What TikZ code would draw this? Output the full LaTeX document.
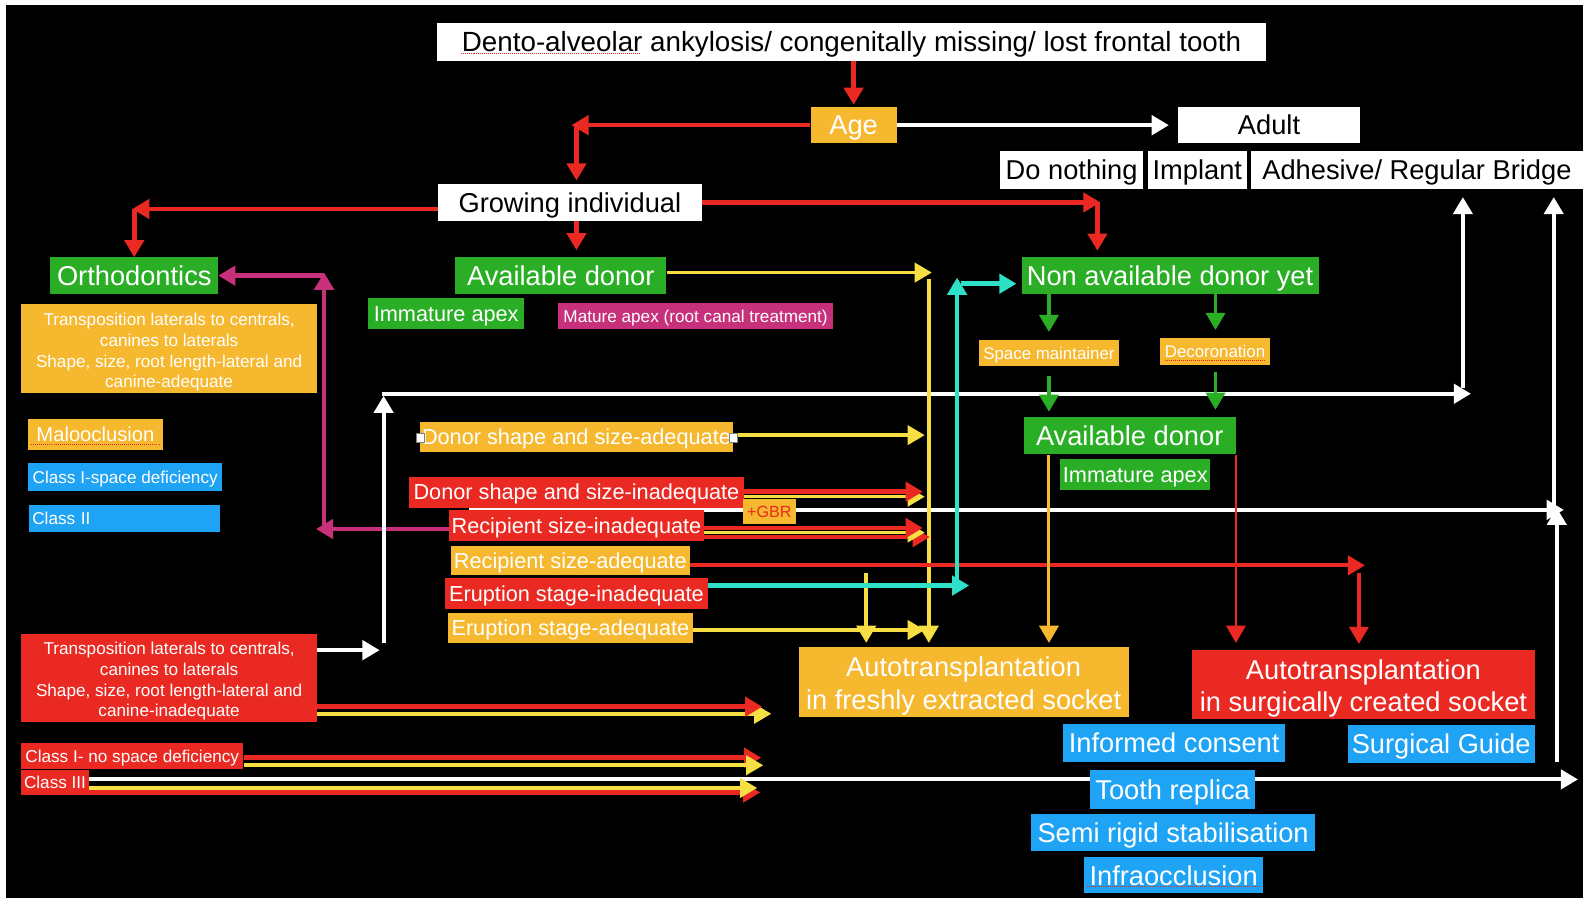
\documentclass[tikz,border=0pt]{standalone}
\usepackage{fontspec}
\setmainfont{Liberation Sans}
\usetikzlibrary{arrows.meta}
\definecolor{corange}{HTML}{F5B82E}
\definecolor{cgreen}{HTML}{2AAE25}
\definecolor{cred}{HTML}{EA2A22}
\definecolor{cblue}{HTML}{1FA4F5}
\definecolor{cmag}{HTML}{C7307B}
\definecolor{ccyan}{HTML}{2EE0C8}
\definecolor{cyel}{HTML}{F7DE42}
\pgfdeclarelayer{back}
\pgfdeclarelayer{lines}
\pgfsetlayers{back,lines,main}
\newcommand\fbig{\fontsize{27}{32}\selectfont}
\newcommand\fmid{\fontsize{21.5}{25}\selectfont}
\newcommand\fsml{\fontsize{17}{20.5}\selectfont}
\begin{document}
\begin{tikzpicture}[x=1pt,y=-1pt,
  box/.style={rectangle, inner sep=0pt, align=center, text=white},
  sz/.style 2 args={minimum width=#1pt, minimum height=#2pt},
  big/.style={font=\fbig, text height=24.8pt, text depth=5.4pt},
  mid/.style={font=\fmid, text height=19.8pt, text depth=4.3pt},
  sml/.style={font=\fsml, text height=15.6pt, text depth=3.4pt},
  wbox/.style={box, fill=white, text=black},
  obox/.style={box, fill=corange},
  gbox/.style={box, fill=cgreen},
  rbox/.style={box, fill=cred},
  bbox/.style={box, fill=cblue},
  mbox/.style={box, fill=cmag},
  ahd/.style={-{Triangle[length=17pt,width=19pt]}},
  rl/.style={ahd, draw=cred, line width=4.5pt},
  yl/.style={ahd, draw=cyel, line width=3.5pt},
  cl/.style={ahd, draw=ccyan, line width=4.5pt},
  ml/.style={ahd, draw=cmag, line width=4.5pt},
  wl/.style={ahd, draw=white, line width=4pt},
  gl/.style={ahd, draw=cgreen, line width=3.5pt},
  ol/.style={ahd, draw=corange, line width=3pt},
  spell/.style={draw=cred, line width=1pt, dash pattern=on 1pt off 1pt},
  handle/.style={rectangle, draw=gray, fill=white, line width=0.6pt, inner sep=0pt, minimum width=8pt, minimum height=9pt}
]
\useasboundingbox (0,0) rectangle (1568,889.5);
\begin{pgfonlayer}{back}
\fill[white] (0,0) rectangle (1568,889.5);
\fill[black] (6,5) rectangle (1568,889.5);
\end{pgfonlayer}

% ---------- nodes ----------
\node[wbox,big,font=\fontsize{27.5}{32}\selectfont,sz={821}{37}] (title) at (843.5,41.5) {Dento-alveolar ankylosis/ congenitally missing/ lost frontal tooth};
\node[obox,big,sz={85}{36}] (age) at (845.5,124) {Age};
\node[wbox,big,sz={180}{36}] (adult) at (1257,124) {Adult};
\node[wbox,big,sz={141}{37}] (donothing) at (1061.5,168.5) {Do nothing};
\node[wbox,big,sz={98}{37}] (implant) at (1186,168.5) {Implant};
\node[wbox,big,sz={329}{37}] (adhesive) at (1403.5,168.5) {Adhesive/ Regular Bridge};
\node[wbox,big,sz={261}{37}] (growing) at (564.5,200.5) {Growing individual};
\node[gbox,big,sz={166}{36}] (ortho) at (133,273) {Orthodontics};
\node[gbox,big,sz={209}{36}] (avail1) at (555.5,273) {Available donor};
\node[gbox,mid,sz={154}{31}] (imm1) at (442,310.5) {Immature apex};
\node[mbox,sml,sz={272}{26}] (mature) at (689,313) {Mature apex (root canal treatment)};
\node[gbox,big,sz={294}{37}] (nonavail) at (1159,273) {Non available donor yet};
\node[obox,sz={293}{88}] (transA) at (167.5,345) {};
\node[box,font=\fsml,yshift=-4pt] (transAt) at (transA.center) {Transposition laterals to centrals,\\canines to laterals\\Shape, size, root length-lateral and\\canine-adequate};
\node[obox,font=\fontsize{20}{24}\selectfont,text height=18.4pt,text depth=4pt,sz={133}{31}] (maloc) at (94.5,430.5) {Malooclusion};
\node[bbox,sml,sz={192}{27}] (cl1sd) at (124,472.5) {Class I-space deficiency};
\node[bbox,sml,sz={189}{27},text width=183pt,align=left] (cl2) at (123.5,513.5) {Class II};
\node[obox,mid,sz={310}{30}] (dsa) at (571,433) {Donor shape and size-adequate};
\node[handle] (hL) at (416,433.5) {};
\node[handle] (hR) at (726,433.5) {};
\node[rbox,mid,sz={332}{31}] (dsi) at (571,487.5) {Donor shape and size-inadequate};
\node[obox,font=\fontsize{16}{19}\selectfont,text=cred,text height=14.7pt,text depth=3.2pt,sz={52}{25}] (gbr) at (762,506.5) {+GBR};
\node[rbox,mid,sz={252}{31}] (rsi) at (571,520.5) {Recipient size-inadequate};
\node[obox,mid,sz={236}{29}] (rsa) at (565,555.5) {Recipient size-adequate};
\node[rbox,mid,sz={260}{30}] (esi) at (571,588) {Eruption stage-inadequate};
\node[obox,mid,sz={242}{30}] (esa) at (565,622) {Eruption stage-adequate};
\node[rbox,sz={293}{87}] (transI) at (167.5,671.5) {};
\node[box,font=\fsml,yshift=-3.5pt] (transIt) at (transI.center) {Transposition laterals to centrals,\\canines to laterals\\Shape, size, root length-lateral and\\canine-inadequate};
\node[rbox,sml,sz={220}{26}] (c1nsd) at (131,749) {Class I- no space deficiency};
\node[rbox,sml,sz={67}{24}] (c3) at (54.5,775) {Class III};
\node[obox,font=\fontsize{16.7}{20}\selectfont,text height=15.3pt,text depth=3.3pt,sz={138}{26}] (spacem) at (1039,350) {Space maintainer};
\node[obox,font=\fontsize{16.7}{20}\selectfont,text height=15.3pt,text depth=3.3pt,sz={109}{27}] (decor) at (1203.5,348.5) {Decoronation};
\node[gbox,big,sz={210}{37}] (avail2) at (1119,431.5) {Available donor};
\node[gbox,mid,sz={149}{30}] (imm2) at (1124.5,470) {Immature apex};
\node[obox,sz={327}{69}] (autoF) at (954.5,675.5) {};
\node[box,font=\fbig,yshift=-4pt] (autoFt) at (autoF.center) {Autotransplantation\\in freshly extracted socket};
\node[rbox,sz={339}{68}] (autoS) at (1350.5,678) {};
\node[box,font=\fbig,yshift=-4pt] (autoSt) at (autoS.center) {Autotransplantation\\in surgically created socket};
\node[bbox,big,sz={220}{38}] (informed) at (1163,736) {Informed consent};
\node[bbox,big,sz={185}{38}] (surgical) at (1427.5,737) {Surgical Guide};
\node[bbox,big,sz={163}{38}] (replica) at (1161.5,782) {Tooth replica};
\node[bbox,big,sz={282}{37}] (semirigid) at (1162,824.5) {Semi rigid stabilisation};
\node[bbox,big,sz={177}{36}] (infra) at (1162.5,867) {Infraocclusion};

% spell-check underlines
\draw[spell] (457,52.5) -- (634,52.5);
\draw[spell] (31,440) -- (158,440);
\draw[spell] (1154,357.5) -- (1253,357.5);
\draw[spell] (1077,878) -- (1248,878);

% ---------- coordinates ----------
\coordinate (aL) at (566,124);
\coordinate (aC) at (571,124);
\coordinate (gL) at (131,207);
\coordinate (gC) at (133,207);
\coordinate (gR) at (1090,200.5);
\coordinate (gR2) at (1087,200.5);
\coordinate (dsiR) at (914,487);
\coordinate (dsiY) at (916,492);
\coordinate (rsiR1) at (914,523);
\coordinate (rsiY) at (916,527.5);
\coordinate (rsiR2) at (921,532);
\coordinate (rsaE) at (1352,560);
\coordinate (rsaD) at (1346,568);
\coordinate (tiR) at (755,700);
\coordinate (tiY) at (764,707);
\coordinate (c1R) at (754,750.5);
\coordinate (c1Y) at (756,758);
\coordinate (c3Y) at (750,780.5);
\coordinate (c3R) at (753,785);
\coordinate (c3W) at (1563,772);
\coordinate (ad1) at (923,270);
\coordinate (yv) at (920,276);
\coordinate (dsaE) at (916,431);
\coordinate (esaE) at (916,624);
\coordinate (yv2) at (858,568);
\coordinate (esiE) at (960,580);
\coordinate (cyB) at (948,577);
\coordinate (cyT) at (948,275);
\coordinate (cyR) at (952,281);
\coordinate (mL) at (313,524);
\coordinate (mB) at (321,520);
\coordinate (mT) at (321,270);
\coordinate (mC) at (321,273);
\coordinate (tiW) at (376,644);
\coordinate (wvB) at (380,637);
\coordinate (wvT) at (380,392);
\coordinate (wh1L) at (378,390);
\coordinate (wh1R) at (1457,390);
\coordinate (wv2) at (1449,384);
\coordinate (wh2L) at (465,505);
\coordinate (wh2R) at (1549,505);
\coordinate (wv3B) at (1542,755);
\coordinate (wv3T) at (1542,503);
\coordinate (wv4) at (1539,505);
\coordinate (gx1) at (1039,0);
\coordinate (gx2) at (1204,0);
\coordinate (g3s) at (1039,372);
\coordinate (g4s) at (1204,368);

% ---------- connectors ----------
\begin{pgfonlayer}{lines}
% red tree
\draw[rl, shorten >=2pt] (title.south -| age.north) -- (age.north);
\draw[rl] (age.west) -- (aL);
\draw[rl, shorten >=3pt] (aC) -- (aC |- growing.north);
\draw[rl] (growing.west |- gL) -- (gL);
\draw[rl] (gC) -- (ortho.north);
\draw[rl, shorten >=7pt] (growing.south -| aC) -- (avail1.north -| aC);
\draw[rl] (growing.east) -- (gR);
\draw[rl, shorten >=6pt] (gR2) -- (gR2 |- nonavail.north);
% white
\draw[wl, shorten >=9pt] (age.east) -- (adult.west);
\draw[wl] (wh1L) -- (wh1R);
\draw[wl, shorten >=8pt] (wv2) -- (wv2 |- adhesive.south);
\draw[wl] (wh2L) -- (wh2R);
\draw[wl] (wv3B) -- (wv3T);
\draw[wl, shorten >=8pt] (wv4) -- (wv4 |- adhesive.south);
\draw[wl] (c3.east |- c3W) -- (c3W);
% magenta
\draw[ml] (rsi.west |- mL) -- (mL);
\draw[ml] (mB) -- (mT);
\draw[ml] (mC) -- (ortho.east);
\draw[wl] (wvB) -- (wvT);
\draw[wl] (transI.east |- tiW) -- (tiW);
% yellow
\draw[yl] (avail1.east |- ad1) -- (ad1);
\draw[yl, shorten >=4pt] (yv) -- (yv |- autoF.north);
\draw[yl] (dsa.east |- dsaE) -- (dsaE);
\draw[yl] (esa.east |- esaE) -- (esaE);
\draw[yl, shorten >=4pt] (yv2) -- (yv2 |- autoF.north);
% bundles
\draw[yl] (dsi.east |- dsiY) -- (dsiY);
\draw[rl] (dsi.east |- dsiR) -- (dsiR);
\draw[rl] (rsi.east |- rsiR2) -- (rsiR2);
\draw[yl] (rsi.east |- rsiY) -- (rsiY);
\draw[rl] (rsi.east |- rsiR1) -- (rsiR1);
\draw[rl, line width=4pt] (rsa.east |- rsaE) -- (rsaE);
\draw[rl, line width=3.5pt, shorten >=6pt] (rsaD) -- (rsaD |- autoS.north);
\draw[rl, line width=2.5pt, shorten >=7pt] (avail2.south east) -- (avail2.south east |- autoS.north);
\draw[yl] (transI.east |- tiY) -- (tiY);
\draw[rl] (transI.east |- tiR) -- (tiR);
\draw[rl] (c1nsd.east |- c1R) -- (c1R);
\draw[yl] (c1nsd.east |- c1Y) -- (c1Y);
\draw[rl] (c3.east |- c3R) -- (c3R);
\draw[yl] (c3.east |- c3Y) -- (c3Y);
% cyan
\draw[cl] (esi.east |- esiE) -- (esiE);
\draw[cl] (cyB) -- (cyT);
\draw[cl, shorten >=5pt] (cyR) -- (cyR -| nonavail.west);
% green
\draw[gl, shorten >=8pt] (nonavail.south -| gx1) -- (spacem.north -| gx1);
\draw[gl, shorten >=8pt] (nonavail.south -| gx2) -- (decor.north -| gx2);
\draw[gl, shorten >=5pt] (g3s) -- (g3s |- avail2.north);
\draw[gl, shorten >=7pt] (g4s) -- (g4s |- avail2.north);
% orange
\draw[ol, shorten >=4pt] (avail2.south -| gx1) -- (gx1 |- autoF.north);
\end{pgfonlayer}
\end{tikzpicture}
\end{document}
